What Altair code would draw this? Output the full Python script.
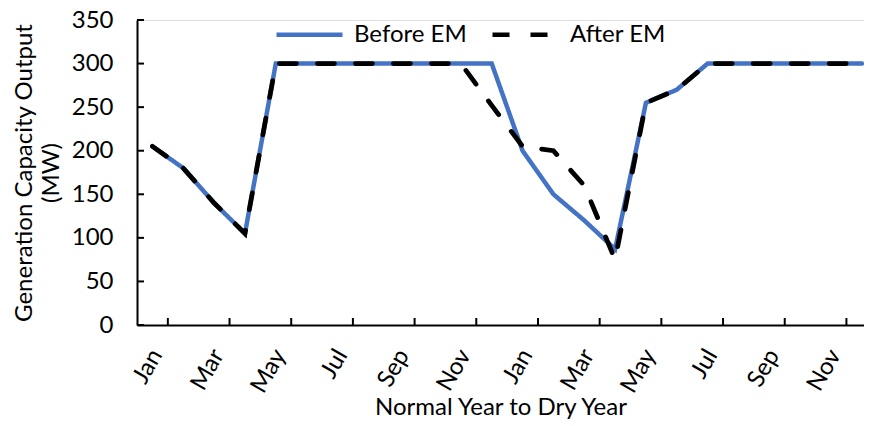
import altair as alt
import pandas as pd

months = ["Jan", "Feb", "Mar", "Apr", "May", "Jun", "Jul", "Aug", "Sep", "Oct", "Nov", "Dec"] * 2
before_em = [205, 180, 140, 105, 300, 300, 300, 300, 300, 300, 300, 300,
             200, 150, 120, 87, 255, 270, 300, 300, 300, 300, 300, 300]
after_em = [205, 180, 140, 105, 300, 300, 300, 300, 300, 300, 300, 252,
            205, 200, 160, 75, 255, 270, 300, 300, 300, 300, 300, 300]
series_names = ["Before EM", "After EM"]
y_ticks = [0, 50, 100, 150, 200, 250, 300, 350]
label_idx = list(range(0, 24, 2))
x_tick_bounds = [i + 0.5 for i in range(0, 24, 2)]

rows = []
for i, m in enumerate(months):
    rows.append({"idx": i, "month": m, "value": before_em[i], "series": "Before EM"})
    rows.append({"idx": i, "month": m, "value": after_em[i], "series": "After EM"})
df = pd.DataFrame(rows)

FONT = "Lato"
FS = 24
label_expr = "[" + ",".join("'" + m + "'" for m in months) + "][datum.value]"

x_scale = alt.Scale(domain=[-0.5, 23.07], nice=False, zero=False)
y_scale = alt.Scale(domain=[0, 350], nice=False)

x_enc = alt.X(
    "idx:Q", scale=x_scale,
    axis=alt.Axis(values=label_idx, labelExpr=label_expr, ticks=False, tickSize=0, grid=False,
                  labelAngle=-60, labelAlign="right", labelBaseline="middle", labelPadding=26,
                  labelOffset=4,
                  labelFont=FONT, labelFontSize=FS, labelColor="black",
                  domainColor="black", domainWidth=2,
                  title="Normal Year to Dry Year", titleFont=FONT, titleFontSize=FS,
                  titleFontWeight="normal", titleColor="black", titleY=70, titleBaseline="top"),
)
y_enc = alt.Y(
    "value:Q", scale=y_scale,
    axis=alt.Axis(values=y_ticks, ticks=False, tickSize=0, grid=False, labelPadding=24,
                  labelFont=FONT, labelFontSize=FS, labelColor="black",
                  domainColor="black", domainWidth=2,
                  title=["Generation Capacity Output", "(MW)"], titleFont=FONT, titleFontSize=FS,
                  titleFontWeight="normal", titleColor="black", titlePadding=8,
                  titleLineHeight=27),
)

legend_cfg = dict(title=None, orient="none", legendX=137, legendY=-21, direction="horizontal",
                  symbolType="stroke", symbolSize=4356, symbolStrokeWidth=4.5,
                  labelFont=FONT, labelFontSize=FS, labelColor="black", labelOffset=9,
                  columnPadding=16, padding=0)

color_enc = alt.Color(
    "series:N",
    scale=alt.Scale(domain=series_names, range=["#4472C4", "#000000"]),
    legend=alt.Legend(**legend_cfg),
)
dash_enc = alt.StrokeDash(
    "series:N",
    scale=alt.Scale(domain=series_names, range=[[1, 0], [17, 21]]),
    legend=alt.Legend(**legend_cfg),
)

base = alt.Chart(df)
line_before = base.transform_filter(alt.datum.series == "Before EM").mark_line(
    strokeWidth=4.5, strokeCap="round", strokeJoin="miter"
).encode(x=x_enc, y=y_enc, color=color_enc, strokeDash=dash_enc)
line_after = base.transform_filter(alt.datum.series == "After EM").mark_line(
    strokeWidth=4.8, strokeCap="round", strokeJoin="miter"
).encode(x=x_enc, y=y_enc, color=color_enc, strokeDash=dash_enc)

ytick_df = pd.DataFrame({"v": y_ticks})
ytick_rules = alt.Chart(ytick_df).mark_rule(color="black", strokeWidth=2).encode(
    y=alt.Y("v:Q", scale=y_scale), x=alt.value(0), x2=alt.value(7)
)
xtick_df = pd.DataFrame({"b": x_tick_bounds})
xtick_rules = alt.Chart(xtick_df).mark_rule(color="black", strokeWidth=2).encode(
    x=alt.X("b:Q", scale=x_scale), y=alt.value(305), y2=alt.value(298)
)

chart = alt.layer(ytick_rules, xtick_rules, line_before, line_after).properties(
    width=727, height=305,
    autosize=alt.AutoSizeParams(type="none"),
    padding={"left": 129, "top": 12, "right": 0, "bottom": 100},
).configure_view(stroke="transparent").configure(font=FONT)

chart.save("out.html", embed_options={"renderer": "svg", "actions": False})
